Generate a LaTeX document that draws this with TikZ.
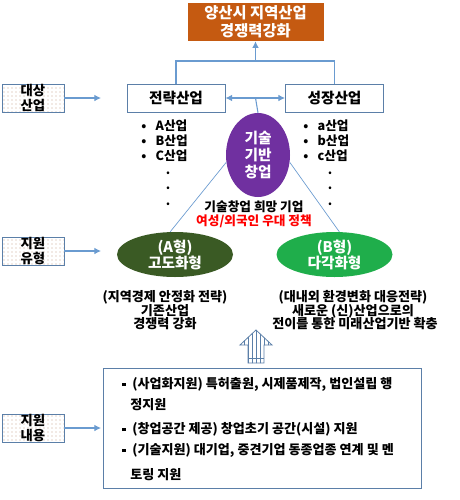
\documentclass[tikz,border=0pt]{standalone}
\usepackage{fontspec}
\setmainfont{Noto Sans CJK KR}
\usetikzlibrary{shapes.geometric,patterns,arrows.meta}
\definecolor{lblue}{HTML}{6A9BD0}
\definecolor{bblue}{HTML}{5B7FA8}
\definecolor{orangebox}{HTML}{C55A11}
\definecolor{purp}{HTML}{7030A0}
\definecolor{dgreen}{HTML}{3A5A24}
\definecolor{lgreen}{HTML}{1FAE4B}
\definecolor{dotc}{HTML}{C8A890}
\newcommand{\fs}[2]{\fontsize{#1}{#2}\selectfont}
\begin{document}
\begin{tikzpicture}[x=0.75pt,y=-0.75pt,font=\bfseries,
  conn/.style={draw=lblue,line width=0.8pt},
  arr/.style={conn,-{Latex[length=5pt,width=5pt]}},
  dbl/.style={conn,{Latex[length=5pt,width=5pt]}-{Latex[length=5pt,width=5pt]}},
  lbl/.style={draw=bblue,line width=0.6pt,pattern=dots,pattern color=dotc,minimum width=46.5pt,minimum height=21pt,inner sep=0pt,align=center,font=\bfseries\fs{10}{11}},
  ibox/.style={draw=bblue,line width=0.7pt,fill=white,minimum width=73.5pt,minimum height=21pt,inner sep=0pt,font=\bfseries\fs{11}{13}},
  txt/.style={inner sep=0pt,font=\bfseries\fs{9.5}{12}},
  btxt/.style={inner sep=0pt,font=\bfseries\fs{9.8}{12}},
  dotn/.style={inner sep=0pt,anchor=base,font=\bfseries\fs{9.5}{12}},
  lowtxt/.style={inner sep=0pt,align=center,font=\bfseries\fs{9.8}{10}}]
\useasboundingbox (0,0) rectangle (460,500);
\fill[white] (0,0) rectangle (460,500);
% top box
\node[fill=orangebox,text=white,minimum width=102pt,minimum height=28.5pt,inner sep=0pt,align=center,font=\bfseries\fs{11.5}{13.5}] (top) at (255.5,22) {양산시 지역산업\\경쟁력강화};
% industry boxes
\node[ibox] (S) at (176,98) {전략산업};
\node[ibox] (G) at (334.5,98) {성장산업};
\coordinate (jl) at (176,61);
\coordinate (jr) at (334.5,61);
\coordinate (jm) at (255.5,61);
\draw[conn] (S.north) -- (jl) -- (jr) -- (G.north);
\draw[arr] (jm) -- (top.south);
\draw[dbl] (S.east) -- (G.west);
\coordinate (mid) at (255.5,98);
% purple ellipse
\node[ellipse,fill=purp,text=white,minimum width=48pt,minimum height=63pt,inner sep=0pt,align=center,font=\bfseries\fs{11}{12.4}] (P) at (258,155) {기술\\기반\\창업};
\draw[conn] (mid) -- (P.north);
% labels
\node[lbl] (L1) at (33,98) {대상\\산업};
\node[lbl] (L2) at (33,251) {지원\\유형};
\node[lbl] (L3) at (33,428) {지원\\내용};
\coordinate (e1) at (101,98);
\coordinate (e2) at (101,251);
\coordinate (e3) at (101,428);
\draw[arr] (L1.east) -- (e1);
\draw[arr] (L2.east) -- (e2);
\draw[arr] (L3.east) -- (e3);
% bullet lists
\node[txt,anchor=west] (la) at (141,126) {•\hspace{7pt}A산업};
\node[txt,anchor=west] (lb) at (141,141) {•\hspace{7pt}B산업};
\node[txt,anchor=west] (lc) at (141,156) {•\hspace{7pt}C산업};
\node[dotn] (ld1) at (168,174) {.};
\node[dotn] (ld2) at (168,189) {.};
\node[dotn] (ld3) at (168,205) {.};
\node[txt,anchor=west] (ra) at (303,126) {•\hspace{7pt}a산업};
\node[txt,anchor=west] (rb) at (303,141) {•\hspace{7pt}b산업};
\node[txt,anchor=west] (rc) at (303,156) {•\hspace{7pt}c산업};
\node[dotn] (rd1) at (330,174) {.};
\node[dotn] (rd2) at (330,189) {.};
\node[dotn] (rd3) at (330,205) {.};
% middle texts
\node[txt] (hope) at (254,207) {기술창업 희망 기업};
\node[txt,text=red] (pol) at (254,221) {여성/외국인 우대 정책};
% green ellipses
\node[ellipse,fill=dgreen,text=white,minimum width=87pt,minimum height=33.75pt,inner sep=0pt,align=center,font=\bfseries\fs{11}{12}] (A) at (175,254.5) {(A형)\\고도화형};
\node[ellipse,fill=lgreen,text=white,minimum width=87pt,minimum height=33.75pt,inner sep=0pt,align=center,font=\bfseries\fs{11}{12}] (B) at (334.5,254.5) {(B형)\\다각화형};
\draw[conn,line width=0.5pt] (P.193) -- (A.102);
\draw[conn,line width=0.5pt] (P.-13) -- (B.78);
% lower texts
\node[lowtxt] (at1) at (165,297) {(지역경제 안정화 전략)};
\node[lowtxt] (at2) at (165,311) {기존산업};
\node[lowtxt] (at3) at (165,324) {경쟁력 강화};
\node[lowtxt] (bt1) at (353,297) {(대내외 환경변화 대응전략)};
\node[lowtxt] (bt2) at (353,311) {새로운 (신)산업으로의};
\node[lowtxt] (bt3) at (355,324) {전이를 통한 미래산업기반 확충};
% hollow striped arrow
\draw[draw=bblue,line width=0.6pt,pattern=vertical lines,pattern color=bblue]
  (256,330) -- (272,345) -- (264,345) -- (264,363) -- (248,363) -- (248,345) -- (240,345) -- cycle;
\draw[draw=bblue,line width=1pt] (248,358.5) -- (264,358.5);
% bottom box
\node[draw=bblue,line width=0.7pt,fill=white,minimum width=238.5pt,minimum height=90pt,inner sep=0pt] (C) at (262,428) {};
\newcommand{\sq}{\raisebox{1.5pt}{\rule{2.6pt}{2.6pt}}\hspace{5pt}}
\node[btxt,anchor=west] (c1) at (122,384) {\sq(사업화지원) 특허출원, 시제품제작, 법인설립 행};
\node[btxt,anchor=west] (c2) at (130,405) {정지원};
\node[btxt,anchor=west] (c3) at (122,429) {\sq(창업공간 제공) 창업초기 공간(시설) 지원};
\node[btxt,anchor=west] (c4) at (122,450) {\sq(기술지원) 대기업, 중견기업 동종업종 연계 및 멘};
\node[btxt,anchor=west] (c5) at (130,475) {토링 지원};
\end{tikzpicture}
\end{document}
